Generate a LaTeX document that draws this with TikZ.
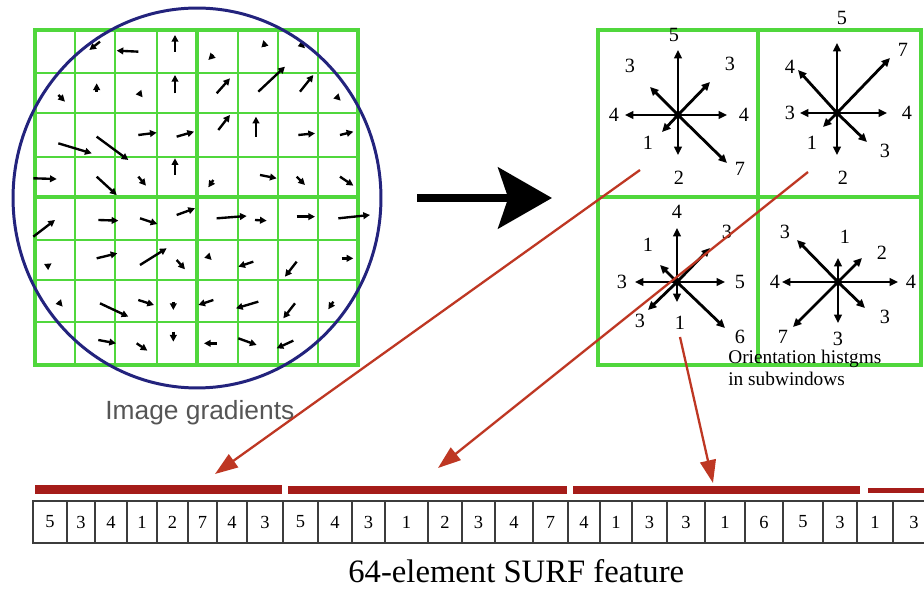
\documentclass[tikz,border=0pt]{standalone}
\usepackage{fontspec}
\setmainfont{Liberation Serif}
\newfontfamily\gradsans{Liberation Sans}
\usetikzlibrary{arrows.meta}
\definecolor{gridgreen}{RGB}{80,215,60}
\definecolor{circblue}{RGB}{35,35,125}
\definecolor{redline}{RGB}{190,55,35}
\definecolor{redbar}{RGB}{165,28,25}
\definecolor{cellgray}{RGB}{60,60,60}
\definecolor{textgray}{RGB}{85,85,85}
\tikzset{
  thingrid/.style={draw=gridgreen, line width=1.13pt},
  thickgrid/.style={draw=gridgreen, line width=2.27pt},
  smallvec/.style={draw=black, line width=1.35pt, -{Triangle[length=3.8pt,width=3.8pt]}},
  histarrow/.style={draw=black, line width=1.6pt, -{Triangle[length=4.8pt,width=4.4pt]}},
  histlab/.style={font=\fontsize{11.5}{13}\selectfont, inner sep=0pt},
  quadbox/.style={draw=gridgreen, line width=2.27pt, inner sep=0pt},
  redarrow/.style={draw=redline, line width=1.3pt, -{Triangle[length=13pt,width=9pt]}},
  bigarrow/.style={draw=black, line width=4.54pt, -{Stealth[length=30.6pt,width=34.6pt,inset=5.7pt]}},
  cellbox/.style={draw=cellgray, line width=0.8pt},
  celltext/.style={font=\fontsize{10.5}{13}\selectfont, inner sep=0pt}
}
\begin{document}
\begin{tikzpicture}[x=0.02cm,y=-0.02cm]
\useasboundingbox (0,0) rectangle (924,590);
\fill[white] (0,0) rectangle (924,590);

% ---------- left grid ----------
\foreach \gx in {75,115,157,238,278,318}
  \draw[thingrid] (\gx,30) -- (\gx,365);
\foreach \gy in {73,113,157,240,280,322}
  \draw[thingrid] (35,\gy) -- (358,\gy);
\draw[thickgrid] (197,30) -- (197,365);
\draw[thickgrid] (35,197) -- (358,197);
\node[draw=gridgreen, line width=2.27pt, inner sep=0pt, minimum width=6.46cm, minimum height=6.7cm] (leftgrid) at (196.5,197.5) {};

\begin{scope}[scale=0.33333]
\foreach \ax/\ay/\bx/\by in {
 300/125/268/150, 415/155/350/152, 525/155/525/105, 640/165/625/180, 795/140/790/120, 900/130/915/145,
 175/285/195/305, 290/275/290/250, 420/282/428/292, 525/280/525/225, 650/280/690/235, 775/275/855/200, 900/275/940/225, 1010/290/1022/302,
 175/430/275/460, 290/410/385/480, 415/405/470/398, 530/410/582/395, 655/390/690/345, 768/410/768/350, 895/405/945/400, 1020/405/1060/395,
 100/535/170/537, 290/530/350/585, 415/530/438/557, 525/525/525/475, 640/540/625/562, 780/525/830/535, 890/530/915/555, 1020/530/1060/557,
 100/710/165/660, 295/660/355/662, 420/655/472/672, 530/645/585/625, 650/655/740/648, 765/660/800/662, 890/650/945/650, 1015/655/1110/645,
 140/800/155/790, 290/775/352/760, 420/795/500/745, 530/780/555/808, 625/770/635/780, 760/785/715/800, 890/785/855/830, 1025/775/1060/775,
 175/905/188/920, 300/910/385/950, 415/900/462/915, 520/905/520/930, 640/900/595/915, 775/905/708/925, 885/910/850/955, 1000/905/985/928,
 295/1020/348/1030, 410/1030/442/1052, 520/995/520/1025, 650/1030/612/1030, 715/1015/770/1035, 880/1022/830/1045}
  \draw[smallvec] (\ax,\ay) -- (\bx,\by);
\end{scope}

\draw[draw=circblue, line width=1.7pt] (197,198) ellipse [x radius=3.68cm, y radius=3.8cm];

\node[font=\gradsans\fontsize{15}{18}\selectfont, text=textgray, anchor=base west, inner sep=0pt] (gradlabel) at (105,420) {Image gradients};

% ---------- big arrow ----------
\coordinate (bigS) at (417,198);
\coordinate (bigE) at (552,198);
\draw[bigarrow] (bigS) -- (bigE);

% ---------- right panel ----------
\node[quadbox, minimum width=3.2cm, minimum height=3.34cm] (qA) at (678,113.5) {};
\node[quadbox, minimum width=3.26cm, minimum height=3.34cm] (qB) at (839.5,113.5) {};
\node[quadbox, minimum width=3.2cm, minimum height=3.36cm] (qC) at (678,281) {};
\node[quadbox, minimum width=3.26cm, minimum height=3.36cm] (qD) at (839.5,281) {};

\coordinate (Ac) at (678,115);
\coordinate (Bc) at (837,113);
\coordinate (Cc) at (677,282);
\coordinate (Dc) at (838,282);

\foreach \q/\ex/\ey/\lab/\lx/\ly [count=\i] in {
 A/678/50/5/674/35, A/678/155/2/679/178, A/625/115/4/614/115, A/727/115/4/744/115,
 A/650/87/3/630/66, A/710/82/3/730/64, A/662/132/1/648/143, A/727/163/7/740/169,
 B/837/43/5/842/18, B/837/155/2/843/178, B/800/113/3/790/113, B/887/113/4/907/113,
 B/798/70/4/790/67, B/890/58/7/903/50, B/823/127/1/812/143, B/867/142/3/885/151,
 C/677/228/4/677/212, C/677/302/1/680/323, C/635/282/3/622/282, C/725/282/5/740/282,
 C/660/265/1/648/245, C/710/248/3/727/232, C/648/310/3/640/321, C/725/328/6/740/337,
 D/838/258/1/845/237, D/838/323/3/838/339, D/782/282/4/775/282, D/898/282/4/911/282,
 D/797/240/3/785/232, D/862/258/2/882/253, D/793/327/7/783/337, D/865/308/3/885/317}
{
  \coordinate (\q e\i) at (\ex,\ey);
  \draw[histarrow] (\q c) -- (\q e\i);
  \node[histlab] (\q l\i) at (\lx,\ly) {\lab};
}
\foreach \q in {A,B,C,D} \fill[black] (\q c) circle (0.08cm);

\node[font=\fontsize{11}{13}\selectfont, anchor=base west, inner sep=0pt, align=left] (orlab) at (728,386) {Orientation histgms\\in subwindows};

% ---------- feature vector ----------
\fill[redbar] (35,485) rectangle (282,494);
\fill[redbar] (288,486) rectangle (567,494);
\fill[redbar] (573,486) rectangle (860,494);
\fill[redbar] (868,488) rectangle (930,493);

\foreach \l/\r/\v [count=\i] in {
 33/67/5, 67/95/3, 95/127/4, 127/157/1, 157/188/2, 188/217/7, 217/247/4, 247/283/3,
 283/318/5, 318/352/4, 352/385/3, 385/428/1, 428/462/2, 462/495/3, 495/533/4, 533/568/7,
 568/600/4, 600/632/1, 632/667/3, 667/705/3, 705/745/1, 745/783/6, 783/823/5, 823/857/3,
 857/893/1, 893/935/3}
{
  \draw[cellbox] (\l,501) rectangle (\r,543);
  \node[celltext] (cell\i) at ({(\l+\r)/2},522) {\v};
}

\node[font=\fontsize{18.6}{22}\selectfont, anchor=base west, inner sep=0pt] (surflab) at (348,583) {64-element SURF feature};

% ---------- red arrows ----------
\coordinate (rA) at (640,170);
\coordinate (rB) at (808,172);
\coordinate (rC) at (680,337);
\coordinate (tA) at (215,474);
\coordinate (tB) at (438,468);
\coordinate (tC) at (713,483);
\draw[redarrow] (rA) -- (tA);
\draw[redarrow] (rB) -- (tB);
\draw[redarrow] (rC) -- (tC);
\end{tikzpicture}
\end{document}
